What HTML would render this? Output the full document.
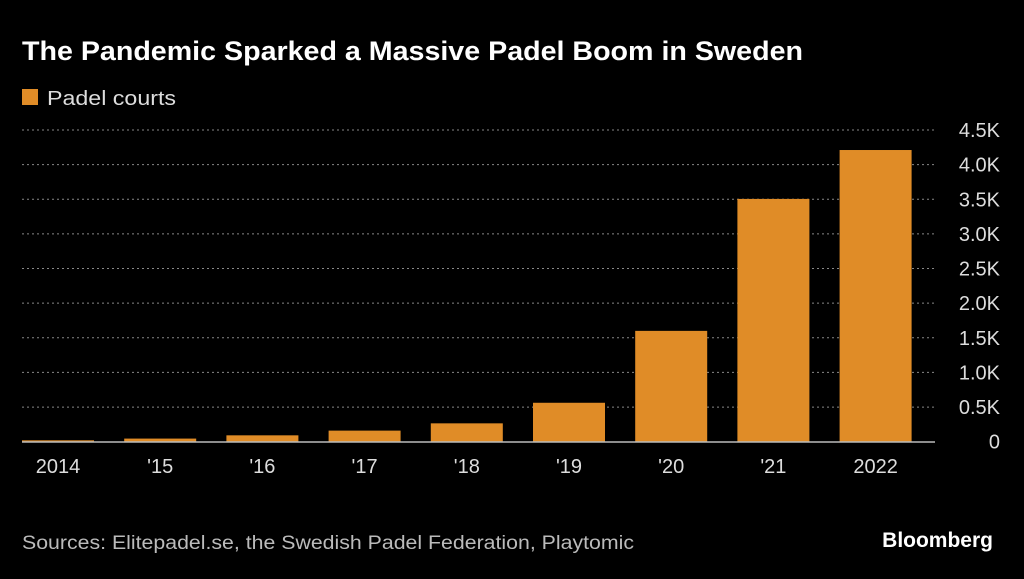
<!DOCTYPE html>
<html><head><meta charset="utf-8"><style>
body{margin:0;background:#000;width:1024px;height:574px;overflow:hidden;font-family:"Liberation Sans",sans-serif;color:#fff}
</style></head><body>
<svg width="1024" height="574">
<text x="22" y="60" font-size="27" font-weight="bold" fill="#fff" textLength="781" lengthAdjust="spacingAndGlyphs">The Pandemic Sparked a Massive Padel Boom in Sweden</text>
<rect x="22" y="89" width="16" height="16" fill="#e08c27"/>
<text x="47" y="105" font-size="20" fill="#ddd" textLength="129" lengthAdjust="spacingAndGlyphs">Padel courts</text>
<g id="grid"></g><g id="bars"></g><g id="xl"></g><g id="yl"></g>
<text x="22" y="549" font-size="19" fill="#bbb" textLength="612" lengthAdjust="spacingAndGlyphs">Sources: Elitepadel.se, the Swedish Padel Federation, Playtomic</text>
<text x="993" y="547" font-size="21" font-weight="bold" fill="#fff" text-anchor="end">Bloomberg</text>
</svg>
<script>
const categories=["2014","'15","'16","'17","'18","'19","'20","'21","2022"];
const values=[20,45,92,160,265,562,1600,3505,4211];
const yTicks=[0,500,1000,1500,2000,2500,3000,3500,4000,4500];
const yTickLabels=["0","0.5K","1.0K","1.5K","2.0K","2.5K","3.0K","3.5K","4.0K","4.5K"];
const ns="http://www.w3.org/2000/svg";
const y=v=>441.7-v*(311.7/4500);
const x=i=>22+i*102.2;
const bw=72;
function mk(t,a,p){const e=document.createElementNS(ns,t);for(const k in a)e.setAttribute(k,a[k]);document.getElementById(p).appendChild(e);return e;}
yTicks.forEach((v,i)=>{
  if(v>0){const l=mk('line',{x1:22,x2:935,y1:y(v),y2:y(v),stroke:'#888','stroke-dasharray':'2 3','stroke-width':1},'grid');
  
  }
  const t=mk('text',{x:1000,y:y(v)+7,'font-size':20,fill:'#ddd','text-anchor':'end'},'yl');
  t.textContent=yTickLabels[i];
  
  
});
values.forEach((v,i)=>{
  const r=mk('rect',{x:x(i),y:y(v),width:bw,height:441.7-y(v),fill:'#e08c27'},'bars');
  
  
  const t=mk('text',{x:x(i)+bw/2,y:473,'font-size':20,fill:'#ddd','text-anchor':'middle'},'xl');
  t.textContent=categories[i];
  
  
});
const b=mk('line',{x1:22,x2:935,y1:442,y2:442,stroke:'#bbb','stroke-width':1.5},'bars');


</script>
</body></html>
